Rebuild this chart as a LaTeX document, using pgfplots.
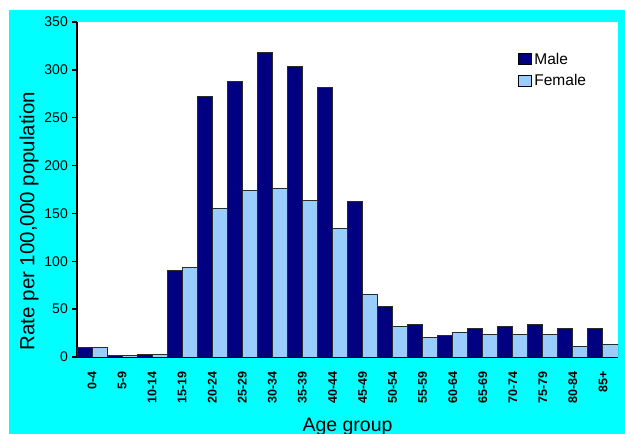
\documentclass[border=0pt]{standalone}
\usepackage{pgfplots}
\usepackage{pgfplotstable}
\pgfplotsset{compat=1.18}
\usepackage{fontspec}
\setmainfont{Liberation Sans}

\definecolor{framecyan}{HTML}{00FFFF}
\definecolor{malebar}{HTML}{000080}
\definecolor{femalebar}{HTML}{99CCFF}
\definecolor{baredge}{HTML}{2A2A2A}

% Rate per 100,000 population by age group
\pgfplotstableread{
idx male female
0   9.5  9.5
1   1.5  1.5
2   3    3
3   90   94
4   272  155
5   288  174
6   318  176
7   303  164
8   282  134
9   162  65
10  53   32
11  34   20
12  22   26
13  30   24
14  32   24
15  34   24
16  30   11
17  30   13
}\agedata

\begin{document}
\begin{tikzpicture}
\path[use as bounding box] (0bp,0bp) rectangle (625bp,434bp);
\fill[white] (0bp,0bp) rectangle (625bp,434bp);
\fill[framecyan] (9bp,0bp) rectangle (625bp,424bp);
\begin{axis}[
  at={(77bp,77bp)}, anchor=south west,
  scale only axis, width=541bp, height=335bp,
  axis background/.style={fill=white},
  axis x line*=bottom, axis y line*=left,
  axis line style={black, line width=2bp, -},
  xmin=-0.5, xmax=17.5, ymin=0, ymax=350,
  enlargelimits=false,
  ytick={0,50,...,350},
  xtick={0,...,17},
  xticklabels={0-4,5-9,10-14,15-19,20-24,25-29,30-34,35-39,40-44,45-49,50-54,55-59,60-64,65-69,70-74,75-79,80-84,85+},
  minor xtick={-0.5,0.5,...,17.5},
  tick align=outside,
  x tick style={draw=none},
  minor x tick style={black, line width=2bp},
  y tick style={black, line width=1.5bp},
  major tick length=5bp, minor tick length=5bp,
  /pgf/number format/assume math mode=true,
  yticklabel style={font=\fontsize{14bp}{16bp}\selectfont, inner sep=1bp},
  xticklabel style={font=\fontsize{12.5bp}{14bp}\selectfont\bfseries, rotate=90, anchor=east, inner sep=0pt},
  xticklabel shift=9bp,
  yticklabel shift=3bp,
  xlabel={Age group},
  ylabel={Rate per 100,000 population},
  xlabel style={font=\fontsize{19.5bp}{22bp}\selectfont, at={(rel axis cs:0.5,-0.221)}, anchor=base},
  ylabel style={font=\fontsize{20.5bp}{22bp}\selectfont, at={(rel axis cs:-0.0887,0.406)}, anchor=center},
  ybar, bar width=0.5,
  legend style={at={(rel axis cs:0.81,0.92)}, anchor=north west, draw=none, fill=none,
    font=\fontsize{15.5bp}{18bp}\selectfont, row sep=5bp,
    /tikz/every even column/.append style={column sep=1bp}},
  legend cell align=left,
  legend image code/.code={\draw[#1, draw=black, line width=1bp] (0bp,-5.5bp) rectangle (13bp,5.5bp);},
]
\addplot[fill=malebar, draw=baredge, line width=1bp, bar shift=-0.25] table[x=idx, y=male] {\agedata};
\addlegendentry{Male}
\addplot[fill=femalebar, draw=baredge, line width=1bp, bar shift=0.25] table[x=idx, y=female] {\agedata};
\addlegendentry{Female}
\end{axis}
\end{tikzpicture}
\end{document}
